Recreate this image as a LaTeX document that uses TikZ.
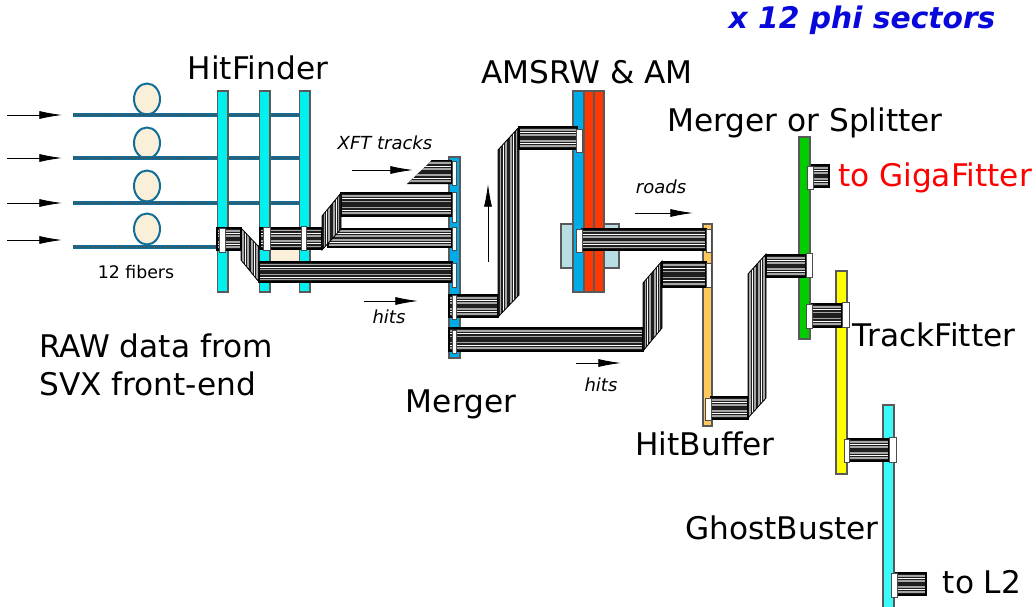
\documentclass[tikz,border=0pt]{standalone}
\usepackage{fontspec}
\setmainfont{DejaVu Sans}
\usetikzlibrary{arrows.meta}

\definecolor{hfcyan}{RGB}{0,240,240}
\definecolor{gbcyan}{RGB}{60,250,250}
\definecolor{mergeblue}{RGB}{0,172,232}
\definecolor{amred}{RGB}{255,56,0}
\definecolor{amshade}{RGB}{184,222,228}
\definecolor{hborange}{RGB}{255,200,92}
\definecolor{msgreen}{RGB}{0,204,0}
\definecolor{tfyellow}{RGB}{255,255,0}
\definecolor{fiberblue}{RGB}{18,110,150}
\definecolor{eggcream}{RGB}{250,240,218}
\definecolor{titleblue}{RGB}{8,8,220}

\tikzset{
  board/.style={draw=black!65,line width=0.8pt},
  plug/.style={draw=black!70,fill=white,line width=0.5pt},
  fiber/.style={draw=fiberblue,line width=2.4pt},
  fiberdots/.style={draw=black!70,line width=0.8pt,densely dotted},
  egg/.style={draw=fiberblue,fill=eggcream,line width=1.5pt},
  flowarrow/.style={black,line width=0.6pt,-{Latex[length=17pt,width=6pt]}},
  biglabel/.style={font=\fontsize{23.4}{27}\selectfont,inner sep=0pt},
  smalllabel/.style={font=\fontsize{13.5}{16}\selectfont\itshape,inner sep=0pt,text=black}
}

% flat cable, left right: x1 y1 x2 y2
\newcommand{\hribbon}[4]{
  \fill[black!88] (#1,#2) rectangle (#3,#4);
  \foreach \k in {1,3,5,7}
    \draw[gray!70,line width=1.3pt] (#1,{#2+(#4-#2)*\k/8}) -- (#3,{#2+(#4-#2)*\k/8});
  \foreach \k in {2,6}
    \draw[white,line width=0.6pt] (#1,{#2+(#4-#2)*\k/8}) -- (#3,{#2+(#4-#2)*\k/8});
  \draw[black,line width=0.8pt] (#1,#2) rectangle (#3,#4);
}
% slanted fold: x1 x2 topleft botleft topright botright
\newcommand{\vribbon}[6]{
  \fill[black!88] (#1,#3) -- (#2,#5) -- (#2,#6) -- (#1,#4) -- cycle;
  \foreach \k in {1,3,5,7}
    \draw[gray!70,line width=1.3pt]
      ({#1+(#2-#1)*\k/8},{#3+(#5-#3)*\k/8}) -- ({#1+(#2-#1)*\k/8},{#4+(#6-#4)*\k/8});
  \foreach \k in {2,6}
    \draw[white,line width=0.6pt]
      ({#1+(#2-#1)*\k/8},{#3+(#5-#3)*\k/8}) -- ({#1+(#2-#1)*\k/8},{#4+(#6-#4)*\k/8});
  \draw[black,line width=0.6pt] (#1,#3) -- (#2,#5) -- (#2,#6) -- (#1,#4) -- cycle;
}

\begin{document}
\begin{tikzpicture}[x=0.75pt,y=-0.75pt]
    \useasboundingbox (0,0) rectangle (1036,607);

    % Eggs and fibers
    \foreach \ya/\yb in {99/115,143/158,186/203,229/247} {
        \draw[egg] (147,\ya) ellipse (13 and 15.5);
        \draw[fiber] (73,\yb) -- (300,\yb);
        \draw[fiberdots] (73,\yb) -- (300,\yb);
    }

    % Input arrows
    \foreach \yb/\name in {115/a,158/b,203/c,240/d} {
        \coordinate (in\name) at (7,\yb);
        \coordinate (out\name) at (62,\yb);
        \draw[flowarrow] (in\name) -- (out\name);
    }

    % HitFinder boards
    \fill[eggcream] (270,250) rectangle (300,262);
    \draw[board,fill=hfcyan] (217.5,91) rectangle (228,292);
    \draw[board,fill=hfcyan] (259.5,91) rectangle (270,292);
    \draw[board,fill=hfcyan] (299.5,91) rectangle (310,292);

    % Merger, AMSRW and AM, HitBuffer
    \draw[board,fill=mergeblue] (449,157) rectangle (460,358);
    \draw[board,fill=amshade] (561,224) rectangle (619,268);
    \draw[board,fill=mergeblue] (573,91) rectangle (584,292);
    \draw[board,fill=amred] (584,91) rectangle (594,292);
    \draw[board,fill=amred] (594,91) rectangle (604,292);
    \draw[board,fill=hborange] (703,224) rectangle (712,426);

    % Merger or Splitter, TrackFitter, GhostBuster
    \draw[board,fill=tfyellow] (836,271) rectangle (847,474);
    \draw[board,fill=msgreen] (799,137) rectangle (810,339);
    \draw[board,fill=gbcyan] (883,405) rectangle (894,608);

    % Cables out of HitFinder
    \hribbon{259}{262}{452}{282}
    \vribbon{241}{259}{228}{260}{247}{282}
    \hribbon{217}{228}{241}{250}
    \hribbon{328}{229}{452}{247}
    \hribbon{341}{193}{452}{216}
    \hribbon{260}{228}{322}{249}
    \vribbon{322}{341}{216}{250}{193}{229}

    % XFT cable
    \begin{scope}
        \clip (432,160) -- (452,160) -- (452,184) -- (407,184) -- cycle;
        \hribbon{407}{160}{452}{184}
    \end{scope}

    % Merger to AMSRW
    \hribbon{449}{295}{498}{317}
    \vribbon{498}{519}{150}{317}{127}{295}
    \hribbon{519}{127}{577}{149}

    % Merger to HitBuffer
    \hribbon{449}{328}{643}{351}
    \vribbon{643}{662}{283}{351}{261}{328}
    \hribbon{662}{262}{706}{287}

    % Roads
    \hribbon{582}{229}{706}{250}

    % HitBuffer to Merger or Splitter
    \hribbon{711}{397}{748}{419}
    \vribbon{748}{766}{274}{418}{254}{398}
    \hribbon{766}{255}{806}{277}

    % Remaining short cables
    \hribbon{812}{165}{829}{187}
    \hribbon{812}{304}{842}{327}
    \hribbon{848}{439}{889}{461}
    \hribbon{896}{573}{926}{595}

    % Plugs
    \draw[plug] (219.5,228) rectangle (225,252);
    \draw[plug] (263,227) rectangle (270,250);
    \draw[plug] (301,226) rectangle (306.5,250);
    \foreach \ya/\yb in {161/185,192/222,227/250,263/287,295/319,330/353}
        \draw[plug] (452.5,\ya) rectangle (456.5,\yb);
    \draw[plug] (576,129) rectangle (582,152);
    \draw[plug] (576,229) rectangle (582,252);
    \draw[plug] (706,229) rectangle (711,252);
    \draw[plug] (706,263) rectangle (711,287);
    \draw[plug] (705,398) rectangle (711,420);
    \draw[plug] (806,253) rectangle (812,277);
    \draw[plug] (807,166) rectangle (813,189);
    \draw[plug] (806,304) rectangle (812,328);
    \draw[plug] (842,302) rectangle (849,327);
    \draw[plug] (844,439) rectangle (849,462);
    \draw[plug] (889,437) rectangle (896,462);
    \draw[plug] (891,573) rectangle (897,597);

    % Small arrows
    \coordinate (xfta) at (352,170);
    \coordinate (xftb) at (413,170);
    \coordinate (hitsa) at (364,301);
    \coordinate (hitsb) at (418,301);
    \coordinate (upa) at (488,262);
    \coordinate (upb) at (488,184);
    \coordinate (hitsc) at (576,363);
    \coordinate (hitsd) at (621,363);
    \coordinate (roadsa) at (635,213);
    \coordinate (roadsb) at (693,213);
    \draw[flowarrow] (xfta) -- (xftb);
    \draw[flowarrow] (hitsa) -- (hitsb);
    \draw[flowarrow] (upa) -- (upb);
    \draw[flowarrow] (hitsc) -- (hitsd);
    \draw[flowarrow] (roadsa) -- (roadsb);

    % Labels
    \node[font=\fontsize{22.3}{26}\selectfont\bfseries\itshape,text=titleblue,inner sep=0pt] (title) at (862,20) {x 12 phi sectors};
    \node[biglabel] (hitfinder) at (258,68) {HitFinder};
    \node[biglabel] (amsrw) at (587,72) {AMSRW \& AM};
    \node[biglabel] (splitter) at (805,123) {Merger or Splitter};
    \node[biglabel,text=red] (giga) at (935,178) {to GigaFitter};
    \node[biglabel] (trackfitter) at (934,335) {TrackFitter};
    \node[biglabel,align=left,font=\fontsize{23.4}{28.5}\selectfont] (rawdata) at (156,365) {RAW data from\\SVX front-end};
    \node[biglabel] (merger) at (461,404) {Merger};
    \node[biglabel] (hitbuffer) at (705,444) {HitBuffer};
    \node[biglabel] (ghostbuster) at (782,528) {GhostBuster};
    \node[biglabel] (tolii) at (982,582) {to L2};
    \node[smalllabel,font=\fontsize{13}{16}\selectfont] (fibers) at (136,272) {12 fibers};
    \node[smalllabel] (xfttracks) at (385,143) {XFT tracks};
    \node[smalllabel] (hitstop) at (389,317) {hits};
    \node[smalllabel] (hitsbot) at (601,385) {hits};
    \node[smalllabel] (roads) at (661,187) {roads};
\end{tikzpicture}
\end{document}
